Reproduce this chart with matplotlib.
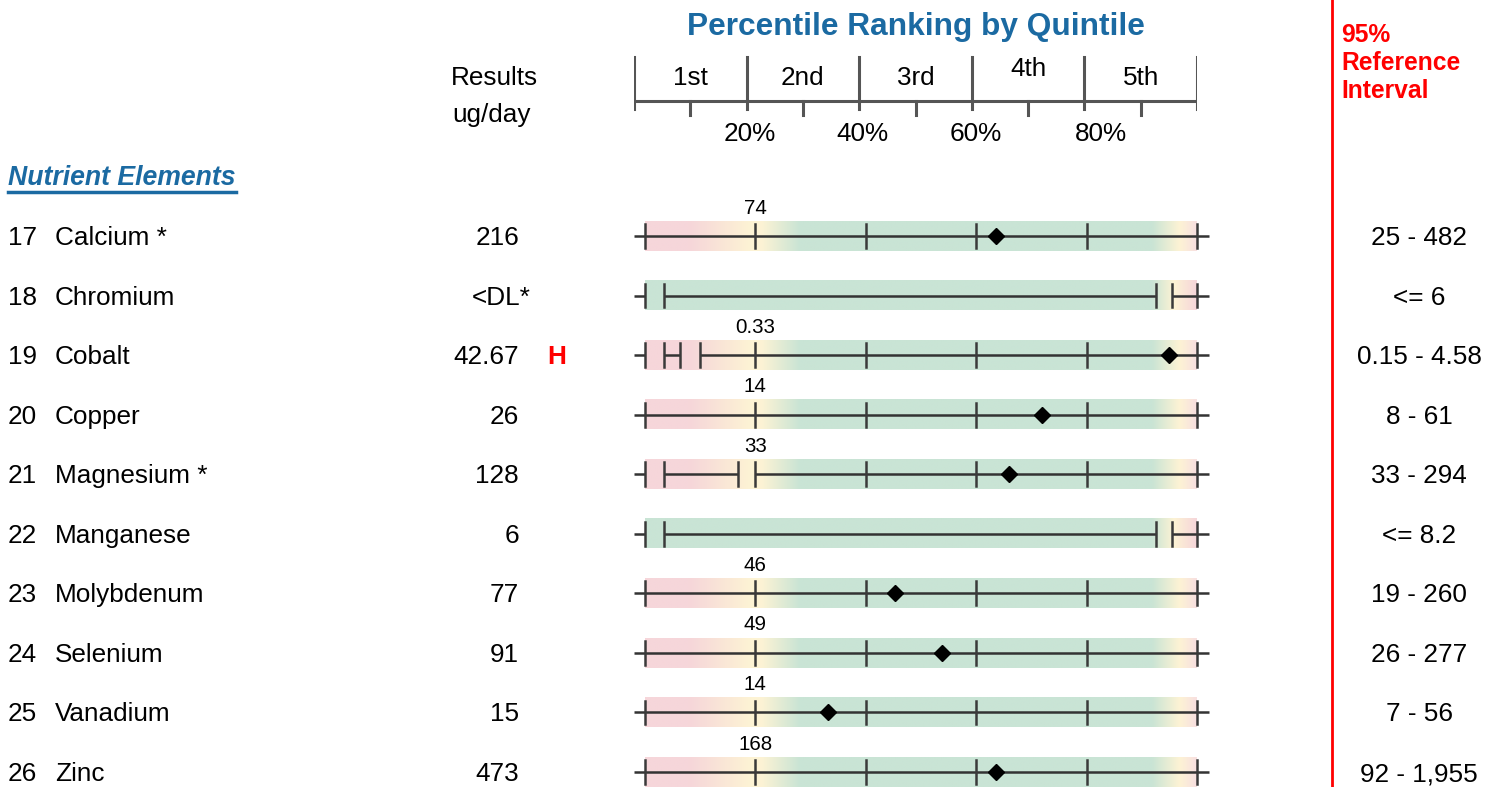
import matplotlib.pyplot as plt
import matplotlib.transforms as mtransforms
from matplotlib.colors import to_rgb
import numpy as np

plt.rcParams['font.family'] = ['Liberation Sans', 'DejaVu Sans']

# --- data ---
numbers = [17, 18, 19, 20, 21, 22, 23, 24, 25, 26]
elements = ["Calcium *", "Chromium", "Cobalt", "Copper", "Magnesium *",
            "Manganese", "Molybdenum", "Selenium", "Vanadium", "Zinc"]
results = ["216", "<DL*", "42.67", "26", "128", "6", "77", "91", "15", "473"]
flags = ["", "", "H", "", "", "", "", "", "", ""]
percentiles = [63.6, None, 94.9, 71.9, 65.9, None, 45.3, 53.8, 33.2, 63.6]
p20_values = ["74", "", "0.33", "14", "33", "", "46", "49", "14", "168"]
ref_intervals = ["25 - 482", "<= 6", "0.15 - 4.58", "8 - 61", "33 - 294",
                 "<= 8.2", "19 - 260", "26 - 277", "7 - 56", "92 - 1,955"]
# "two" = low and high limits, "upper" = upper limit only
scale_types = ["two", "upper", "two", "two", "two",
               "upper", "two", "two", "two", "two"]
gaps = [[], [(0, 3.4), (92.6, 95.5)], [(0, 3.4), (6.3, 10)], [],
        [(0, 3.4), (16.8, 20)], [(0, 3.4), (92.6, 95.5)], [], [], [], []]
quintile_labels = ["1st", "2nd", "3rd", "4th", "5th"]
pct_labels = ["20%", "40%", "60%", "80%"]

BLUE = "#1b6aa2"
RED = "#ff0000"
PINK = "#f6d6da"
YELLOW = "#fdf3d4"
GREEN = "#c9e4d5"
FS = 18.8

stops = {
    "two": [(0, PINK), (8, PINK), (19, YELLOW), (21, YELLOW), (28, GREEN),
            (92, GREEN), (97, YELLOW), (100, "#f8e0e0")],
    "upper": [(0, GREEN), (92, GREEN), (96, YELLOW), (100, PINK)],
}


def gradient(kind, n=300):
    xs = np.linspace(0, 100, n)
    pos = [s[0] for s in stops[kind]]
    cols = np.array([to_rgb(s[1]) for s in stops[kind]])
    img = np.stack([np.interp(xs, pos, cols[:, k]) for k in range(3)], axis=-1)
    return img[np.newaxis, :, :]


fig = plt.figure(figsize=(15, 7.87), dpi=100)

# background axes in pixel units for the header text
ax_bg = fig.add_axes([0, 0, 1, 1])
ax_bg.set_xlim(0, 1500)
ax_bg.set_ylim(787, 0)
ax_bg.axis("off")

# bar axes: x = percentile, y = row index
row0, row_step = 236, 59.56
x0_px, px_per_pct = 645, 5.52
ax = fig.add_axes([620 / 1500, 0, 600 / 1500, 1])
ax.set_xlim((620 - x0_px) / px_per_pct, (1220 - x0_px) / px_per_pct)
ax.set_ylim((787 - row0) / row_step, (0 - row0) / row_step)
ax.axis("off")

# header ruler axes: x = percentile (0..100), y = pixels
ax_h = fig.add_axes([634 / 1500, 0, 563 / 1500, 1])
ax_h.set_xlim(0, 100)
ax_h.set_ylim(787, 0)
ax_h.axis("off")

# --- header ---
ax_bg.text(916, 27, "Percentile Ranking by Quintile", fontsize=22.8,
           fontweight="bold", color=BLUE, ha="center", va="center")
ax_bg.text(494, 78, "Results", fontsize=FS, ha="center", va="center")
ax_bg.text(491, 115, "ug/day", fontsize=FS, ha="center", va="center")
ax_bg.text(1341, 63, "95%\nReference\nInterval", fontsize=17.7,
           fontweight="bold", color=RED, ha="left", va="center",
           linespacing=1.22)
ax_bg.plot([1332, 1332], [0, 787], color=RED, lw=2)

ruler_col = "#555555"
ax_h.plot([0, 100], [101, 101], color=ruler_col, lw=2.2, solid_capstyle="butt")
for q in range(6):
    ax_h.plot([q * 20, q * 20], [57, 109], color=ruler_col, lw=2.2)
for q in range(5):
    ax_h.plot([q * 20 + 10, q * 20 + 10], [101, 115], color=ruler_col, lw=2.2)
for q, lab in enumerate(quintile_labels):
    yy = 69 if lab == "4th" else 78
    ax_h.text(q * 20 + 10, yy, lab, fontsize=FS, ha="center", va="center")
pct_nudge = [0.6, 0.5, 0.7, 3.0]
for q, lab in enumerate(pct_labels):
    ax_h.text((q + 1) * 20 + pct_nudge[q], 134, lab, fontsize=FS,
              ha="center", va="center")

t = ax_bg.text(8, 178, "Nutrient Elements", fontsize=19.2, fontweight="bold",
               fontstyle="italic", color=BLUE, ha="left", va="center")
fig.canvas.draw()
bb = t.get_window_extent().transformed(ax_bg.transData.inverted())
ax_bg.plot([bb.x0, bb.x1], [192, 192], color=BLUE, lw=2.5)

# --- rows ---
row_tr = mtransforms.blended_transform_factory(ax_bg.transData, ax.transData)
line_col = "#333333"
half = 0.245
dy = 2 / row_step  # nudge text down to match visual centre
for i in range(len(elements)):
    ax.imshow(gradient(scale_types[i]), extent=(0, 100, i + half, i - half),
              aspect="auto", interpolation="bilinear", zorder=1)

    # line segments with gaps
    segs = [-2.0]
    for a, b in gaps[i]:
        segs += [a, b]
    segs.append(102.2)
    for k in range(0, len(segs), 2):
        ax.plot([segs[k], segs[k + 1]], [i, i], color=line_col, lw=1.8,
                solid_capstyle="butt", zorder=2)

    ticks = [0, 100] if scale_types[i] == "upper" else [0, 20, 40, 60, 80, 100]
    for a, b in gaps[i]:
        ticks += [a, b]
    for tk in sorted(set(ticks)):
        ax.plot([tk, tk], [i - 0.2, i + 0.2], color="#3a3a3a", lw=1.8, zorder=3)

    if percentiles[i] is not None:
        ax.plot(percentiles[i], i, marker="D", color="black", markersize=8.3,
                zorder=4)
    if p20_values[i]:
        ax.text(20, i - 0.47, p20_values[i], fontsize=14.8, ha="center",
                va="center", zorder=4)

    y = i + dy
    ax_bg.text(8, y, str(numbers[i]), fontsize=FS, ha="left", va="center",
               transform=row_tr)
    ax_bg.text(55, y, elements[i], fontsize=FS, ha="left", va="center",
               transform=row_tr)
    rx = 531 if results[i].endswith("*") else 519
    ax_bg.text(rx, y, results[i], fontsize=FS, ha="right", va="center",
               transform=row_tr)
    if flags[i]:
        ax_bg.text(557, y, flags[i], fontsize=FS, fontweight="bold", color=RED,
                   ha="center", va="center", transform=row_tr)
    ax_bg.text(1419, y, ref_intervals[i], fontsize=FS, ha="center",
               va="center", transform=row_tr)

fig.savefig("out.png", dpi=100, facecolor="white")
